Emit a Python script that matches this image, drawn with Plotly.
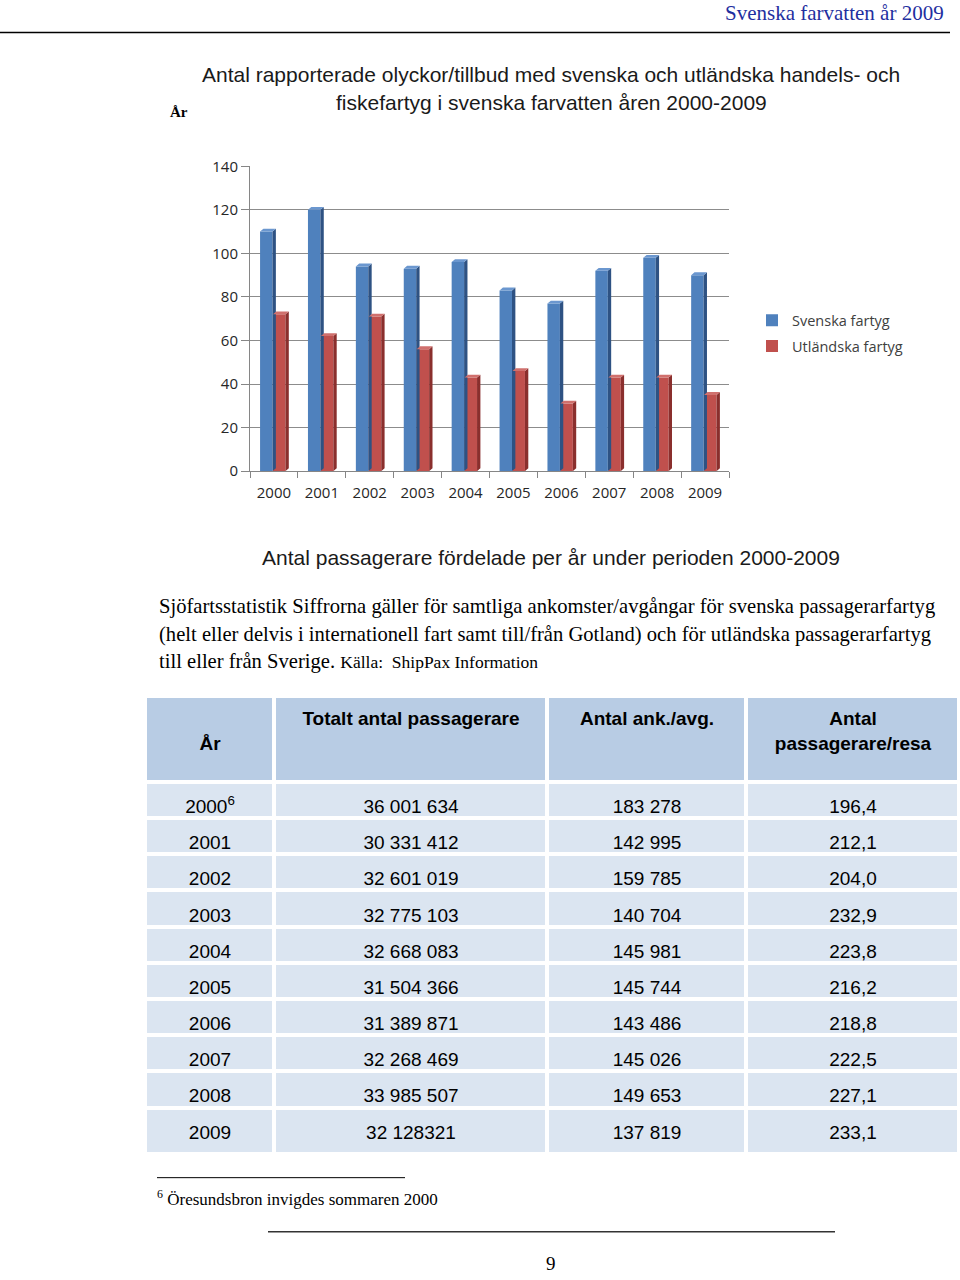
import plotly.graph_objects as go

# ==================== data ====================
years = [2000, 2001, 2002, 2003, 2004, 2005, 2006, 2007, 2008, 2009]
svenska = [110, 120, 94, 93, 96, 83, 77, 92, 98, 90]
utlandska = [72, 62, 71, 56, 43, 46, 31, 43, 43, 35]
y_ticks = [0, 20, 40, 60, 80, 100, 120, 140]

tab_header = ['År', 'Totalt antal passagerare', 'Antal ank./avg.', 'Antal<br>passagerare/resa']
tab_ar = ['2000<sup>6</sup>', '2001', '2002', '2003', '2004', '2005', '2006', '2007', '2008', '2009']
tab_totalt = ['36 001 634', '30 331 412', '32 601 019', '32 775 103', '32 668 083',
              '31 504 366', '31 389 871', '32 268 469', '33 985 507', '32 128321']
tab_ank = ['183 278', '142 995', '159 785', '140 704', '145 981',
           '145 744', '143 486', '145 026', '149 653', '137 819']
tab_per_resa = ['196,4', '212,1', '204,0', '232,9', '223,8',
                '216,2', '218,8', '222,5', '227,1', '233,1']

# ==================== style ====================
W, H = 960, 1280
SQUEEZE = 0.985   # vertical squeeze seen in the photographed page, compensated below
SANS = 'Liberation Sans, Arial, sans-serif'
SERIF = 'Liberation Serif, Times New Roman, serif'
CHART_FONT = 'Open Sans, Lato, sans-serif'
BLUE, BLUE_SIDE, BLUE_TOP = '#4f81bd', '#2e5283', '#6b97cf'
RED, RED_SIDE, RED_TOP = '#c0504d', '#8a2f2d', '#d0706d'
HEAD_FILL, CELL_FILL = '#b8cce4', '#dbe5f1'
CLEAR = 'rgba(0,0,0,0)'

BAR_W = 0.26
OFFS = {'sv': -0.29, 'ut': -0.02}
DX, DY = 0.07, 1.3   # 3d depth in axis units

# table grid (page pixels), edges sit in the middle of the white gaps
TAB_LEFT = 145
COL_W = [129, 273, 199, 213]
HEAD_EDGES = (695, 781)
ROW_H, LAST_ROW_H = 36.2, 46.2
GAP = 4
HEAD_TEXT_Y = (697, 764)     # band whose middle holds the two header text lines
BODY_TEXT_TOP = 787          # body text sits a little low in each row


def py(px):
    f = H / 2 + (px - H / 2) / SQUEEZE
    return 1 - f / H


def faces(vals, off):
    # side and top faces of the pseudo 3d bars, built from the values
    sx, sy, tx, ty = [], [], [], []
    for i, v in enumerate(vals):
        x0 = i + off
        x1 = x0 + BAR_W
        sx += [x1, x1 + DX, x1 + DX, x1, x1, None]
        sy += [0, DY, v + DY, v, 0, None]
        tx += [x0, x0 + DX, x1 + DX, x1, x0, None]
        ty += [v, v + DY, v + DY, v, v, None]
    return sx, sy, tx, ty


fig = go.Figure()

xs = list(range(len(years)))
fig.add_trace(go.Bar(x=xs, y=svenska, name='Svenska fartyg', width=BAR_W, offset=OFFS['sv'],
                     marker=dict(color=BLUE, line=dict(width=0)), legendgroup='sv'))
fig.add_trace(go.Bar(x=xs, y=utlandska, name='Utländska fartyg', width=BAR_W, offset=OFFS['ut'],
                     marker=dict(color=RED, line=dict(width=0)), legendgroup='ut'))

for vals, key, side_c, top_c in [(svenska, 'sv', BLUE_SIDE, BLUE_TOP), (utlandska, 'ut', RED_SIDE, RED_TOP)]:
    sx, sy, tx, ty = faces(vals, OFFS[key])
    fig.add_trace(go.Scatter(x=sx, y=sy, mode='lines', fill='toself', fillcolor=side_c,
                             line=dict(width=0, color=side_c), showlegend=False, hoverinfo='skip'))
    fig.add_trace(go.Scatter(x=tx, y=ty, mode='lines', fill='toself', fillcolor=top_c,
                             line=dict(width=0, color=top_c), showlegend=False, hoverinfo='skip'))

# ==================== table (heatmap bricks with text) ====================
col_edges = [TAB_LEFT]
for w in COL_W:
    col_edges.append(col_edges[-1] + w)

n_rows = len(tab_ar)
row_edges = list(HEAD_EDGES)
for r in range(n_rows):
    row_edges.append(row_edges[-1] + (LAST_ROW_H if r == n_rows - 1 else ROW_H))
text_edges = [BODY_TEXT_TOP + ROW_H * r for r in range(n_rows + 1)]

body = [tab_ar, tab_totalt, tab_ank, tab_per_resa]
body_txt = [[col[r] for col in body] for r in range(n_rows)]
z = [[1] * 4] + [[0] * 4 for _ in tab_ar]

# cell fills
fig.add_trace(go.Heatmap(
    x=col_edges, y=row_edges, z=z,
    colorscale=[[0, CELL_FILL], [1, HEAD_FILL]], zmin=0, zmax=1, showscale=False,
    xgap=GAP, ygap=GAP, hoverinfo='skip', xaxis='x2', yaxis='y2',
))

# header texts sit at the top of the header cells (two lines each, like the word table)
head_txt = [' <br><b>%s</b>' % tab_header[0],
            '<b>%s</b><br> ' % tab_header[1],
            '<b>%s</b><br> ' % tab_header[2],
            '<b>%s</b>' % tab_header[3]]
fig.add_trace(go.Heatmap(
    x=col_edges, y=list(HEAD_TEXT_Y), z=[[0] * 4], text=[head_txt], texttemplate='%{text}',
    textfont=dict(family=SANS, size=19, color='black'),
    colorscale=[[0, CLEAR], [1, CLEAR]], zmin=0, zmax=1, showscale=False,
    hoverinfo='skip', xaxis='x2', yaxis='y2',
))

# body texts
fig.add_trace(go.Heatmap(
    x=col_edges, y=text_edges, z=[[0] * 4 for _ in tab_ar], text=body_txt, texttemplate='%{text}',
    textfont=dict(family=SANS, size=19, color='black'),
    colorscale=[[0, CLEAR], [1, CLEAR]], zmin=0, zmax=1, showscale=False,
    hoverinfo='skip', xaxis='x2', yaxis='y2',
))

fig.update_layout(
    width=W, height=H, margin=dict(l=0, r=0, t=0, b=0),
    paper_bgcolor='white', plot_bgcolor=CLEAR,
    showlegend=True,
    legend=dict(x=752 / W, y=py(303), xanchor='left', yanchor='top',
                font=dict(family=CHART_FONT, size=14.5, color='#404040'),
                traceorder='grouped', tracegroupgap=4, bgcolor=CLEAR),
    xaxis=dict(domain=[250 / W, 729 / W], range=[-0.5, 9.5], tickmode='array',
               tickvals=xs, ticktext=[str(y) for y in years], showgrid=False,
               showline=True, linecolor='#868686', zeroline=False,
               ticks='outside', ticklen=8, tickcolor=CLEAR,
               minor=dict(tickmode='array', tickvals=[i - 0.5 for i in range(len(years) + 1)],
                          ticks='outside', ticklen=6, tickcolor='#868686', showgrid=False),
               tickfont=dict(family=CHART_FONT, size=15, color='#262626')),
    yaxis=dict(domain=[py(470), py(165)], range=[0, 140], tickvals=y_ticks,
               showgrid=True, gridcolor='#8c8c8c', gridwidth=1,
               showline=True, linecolor='#868686', ticks='outside', ticklen=8, tickcolor='#868686',
               zeroline=False,
               tickfont=dict(family=CHART_FONT, size=15, color='#262626')),
    xaxis2=dict(domain=[0, 1], range=[0, W], visible=False, anchor='y2'),
    yaxis2=dict(domain=[0, 1], range=[H / 2 + H / 2 * SQUEEZE, H / 2 - H / 2 * SQUEEZE],
                visible=False, anchor='x2'),
)

ann = [
    dict(text='Svenska farvatten år 2009', x=946 / W, y=py(12), xanchor='right',
         font=dict(family=SERIF, size=21, color='#1f2fa0')),
    dict(text='<b>År</b>', x=168 / W, y=py(111), xanchor='left',
         font=dict(family=SERIF, size=15, color='black')),
    dict(text='Antal rapporterade olyckor/tillbud med svenska och utländska handels- och', x=551 / W, y=py(73),
         xanchor='center', font=dict(family=SANS, size=21, color='#1a1a1a')),
    dict(text='fiskefartyg i svenska farvatten åren 2000-2009', x=551 / W, y=py(101),
         xanchor='center', font=dict(family=SANS, size=21, color='#1a1a1a')),
    dict(text='Antal passagerare fördelade per år under perioden 2000-2009', x=551 / W, y=py(556),
         xanchor='center', font=dict(family=SANS, size=21, color='#1a1a1a')),
    dict(text='Sjöfartsstatistik Siffrorna gäller för samtliga ankomster/avgångar för svenska passagerarfartyg',
         x=157 / W, y=py(605), xanchor='left', font=dict(family=SERIF, size=20.6, color='black')),
    dict(text='(helt eller delvis i internationell fart samt till/från Gotland) och för utländska passagerarfartyg',
         x=157 / W, y=py(633), xanchor='left', font=dict(family=SERIF, size=20.6, color='black')),
    dict(text='till eller från Sverige. <span style="font-size:17.5px">Källa:  ShipPax Information</span>',
         x=157 / W, y=py(661), xanchor='left', font=dict(family=SERIF, size=20.6, color='black')),
    dict(text='<sup>6</sup> Öresundsbron invigdes sommaren 2000', x=155 / W, y=py(1197), xanchor='left',
         font=dict(family=SERIF, size=17, color='black')),
    dict(text='9', x=551 / W, y=py(1263), xanchor='center',
         font=dict(family=SERIF, size=19, color='black')),
]
for a in ann:
    fig.add_annotation(xref='paper', yref='paper', yanchor='middle', showarrow=False, **a)

# page rules
fig.add_shape(type='line', xref='paper', yref='paper', x0=0, x1=950 / W, y0=py(31), y1=py(31),
              line=dict(color='black', width=1.5))
fig.add_shape(type='line', xref='paper', yref='paper', x0=157 / W, x1=405 / W, y0=py(1177), y1=py(1177),
              line=dict(color='black', width=1))
fig.add_shape(type='line', xref='paper', yref='paper', x0=268 / W, x1=835 / W, y0=py(1231), y1=py(1231),
              line=dict(color='#333333', width=1.5))

# pin the plot to the page corner so the page is exactly the figure
page_js = ("var gd = document.getElementById('{plot_id}');"
           "gd.style.position = 'absolute'; gd.style.top = '0px'; gd.style.left = '0px';"
           "document.body.style.margin = '0px'; document.body.style.overflow = 'hidden';")
fig.write_html("out.html", config={'displayModeBar': False}, post_script=page_js)
